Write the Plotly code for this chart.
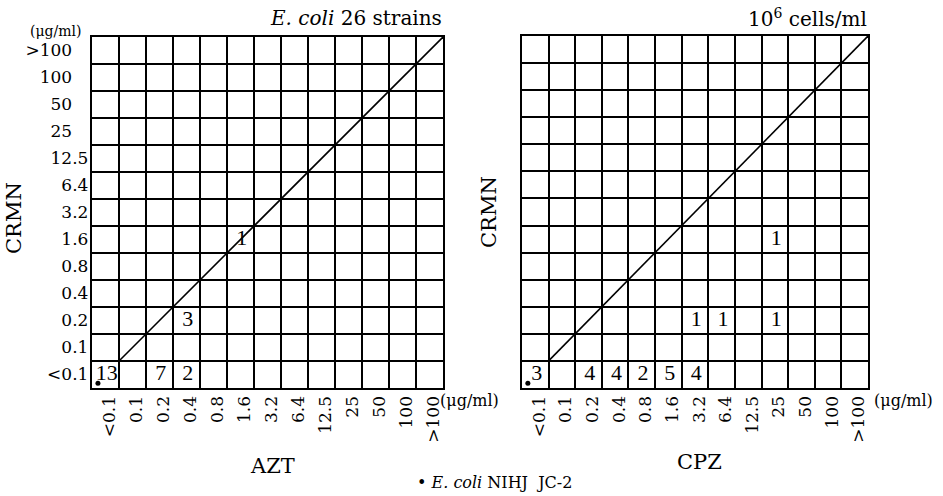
import plotly.graph_objects as go

W, H = 943, 496

# ---- data ----
levels = ["<0.1", "0.1", "0.2", "0.4", "0.8", "1.6", "3.2", "6.4", "12.5", "25", "50", "100", ">100"]

# AZT (x) vs CRMN (y): (AZT MIC, CRMN MIC, number of strains)
azt_x = ["<0.1", "0.2", "0.4", "0.4", "1.6"]
azt_y = ["<0.1", "<0.1", "<0.1", "0.2", "1.6"]
azt_n = [13, 7, 2, 3, 1]

# CPZ (x) vs CRMN (y)
cpz_x = ["<0.1", "0.2", "0.4", "0.8", "1.6", "3.2", "3.2", "6.4", "25", "25"]
cpz_y = ["<0.1", "<0.1", "<0.1", "<0.1", "<0.1", "<0.1", "0.2", "0.2", "0.2", "1.6"]
cpz_n = [3, 4, 4, 2, 5, 4, 1, 1, 1, 1]

# reference strain (E. coli NIHJ JC-2) cell
ref_cell = ("<0.1", "<0.1")

SERIF = "DejaVu Serif"
NUMF = "Liberation Serif"
n = len(levels)


def idx(v):
    return levels.index(v)


def px(x):
    return x / W


def py(y):
    return 1 - y / H


fig = go.Figure()

panels = [
    ("x", "y", azt_x, azt_y, azt_n),
    ("x2", "y2", cpz_x, cpz_y, cpz_n),
]
for xa, ya, xs, ys, ns in panels:
    # diagonal line of equal MIC
    fig.add_trace(go.Scatter(
        x=[1, n], y=[1, n], mode="lines", xaxis=xa, yaxis=ya,
        line=dict(color="black", width=1.6), hoverinfo="skip", showlegend=False))
    # counts
    fig.add_trace(go.Scatter(
        x=[idx(v) + 0.55 for v in xs], y=[idx(v) + 0.5 for v in ys],
        text=[str(k) for k in ns], mode="text", xaxis=xa, yaxis=ya,
        textposition="middle center",
        textfont=dict(family=NUMF, size=22, color="black"),
        showlegend=False))
    # reference strain dot
    fig.add_trace(go.Scatter(
        x=[idx(ref_cell[0]) + 0.22], y=[idx(ref_cell[1]) + 0.18],
        mode="markers", xaxis=xa, yaxis=ya,
        marker=dict(color="black", size=5), showlegend=False))

grid_vals = list(range(n + 1))
center_vals = [i + 0.5 for i in range(n)]
# y labels are typeset aligned on the decimal point
y_ticktext = [t if "." in t else t + "\u00a0" * 3 for t in levels]


def xaxis(domain):
    return dict(
        domain=domain, range=[0, n], showgrid=False, zeroline=False,
        tickmode="array", tickvals=[c + 0.15 for c in center_vals], ticktext=levels,
        tickangle=-90, ticks="", ticklen=0, ticklabelstandoff=-1,
        tickfont=dict(family=SERIF, size=17, color="black"),
        showline=True, linecolor="black", linewidth=2.4, mirror=True,
        minor=dict(tickmode="array", tickvals=grid_vals, showgrid=True,
                   gridcolor="black", gridwidth=2, ticks=""),
        fixedrange=True)


def yaxis(domain, labels=True):
    d = dict(
        domain=domain, range=[0, n], showgrid=False, zeroline=False,
        tickmode="array", tickvals=center_vals,
        ticks="", ticklen=0, ticklabelstandoff=-2, showticklabels=labels,
        tickfont=dict(family=SERIF, size=17, color="black"),
        showline=True, linecolor="black", linewidth=2.4, mirror=True,
        minor=dict(tickmode="array", tickvals=grid_vals, showgrid=True,
                   gridcolor="black", gridwidth=2, ticks=""),
        fixedrange=True)
    if labels:
        d["ticktext"] = y_ticktext
    return d


fig.update_layout(
    width=W, height=H, margin=dict(l=0, r=0, t=0, b=0),
    paper_bgcolor="white", plot_bgcolor="white",
    font=dict(family=SERIF, color="black"),
    xaxis=dict(xaxis([px(92), px(443)]), anchor="y"),
    yaxis=dict(yaxis([py(388), py(37)]), anchor="x"),
    xaxis2=dict(xaxis([px(522), px(868)]), anchor="y2"),
    yaxis2=dict(yaxis([py(388), py(36)], labels=False), anchor="x2"),
)

annots = [
    dict(text="(μg/ml)", x=px(55), y=py(31), size=14, xanchor="center"),
    dict(text="<i>E. coli</i> 26 strains", x=px(444), y=py(18), size=20, xanchor="right"),
    dict(text="10<sup>6</sup> cells/ml", x=px(869), y=py(18), size=20, xanchor="right"),
    dict(text="CRMN", x=px(14), y=py(218), size=21, xanchor="center", angle=-90),
    dict(text="CRMN", x=px(489), y=py(212), size=21, xanchor="center", angle=-90),
    dict(text="(μg/ml)", x=px(438), y=py(400), size=16, xanchor="left"),
    dict(text="(μg/ml)", x=px(872), y=py(400), size=16, xanchor="left"),
    dict(text="AZT", x=px(272), y=py(466), size=21, xanchor="center"),
    dict(text="CPZ", x=px(699), y=py(462), size=21, xanchor="center"),
    dict(text="• <i>E. coli</i> NIHJ  JC-2", x=px(494), y=py(482), size=16, xanchor="center"),
]
for a in annots:
    fig.add_annotation(
        text=a["text"], x=a["x"], y=a["y"], xref="paper", yref="paper",
        xanchor=a["xanchor"], yanchor="middle", showarrow=False,
        textangle=a.get("angle", 0),
        font=dict(family=SERIF, size=a["size"], color="black"))

fig.write_html("out.html")
